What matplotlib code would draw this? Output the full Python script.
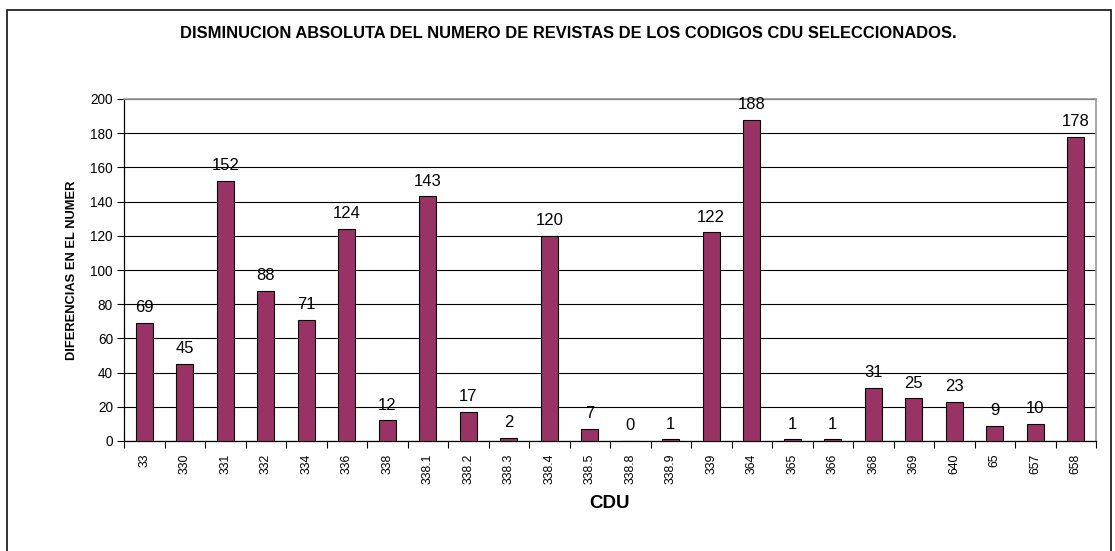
import matplotlib
matplotlib.use("Agg")
import matplotlib.pyplot as plt
from matplotlib.patches import Rectangle

categories = ["33", "330", "331", "332", "334", "336", "338", "338.1", "338.2",
              "338.3", "338.4", "338.5", "338.8", "338.9", "339", "364", "365",
              "366", "368", "369", "640", "65", "657", "658"]
values = [69, 45, 152, 88, 71, 124, 12, 143, 17, 2, 120, 7, 0, 1, 122, 188,
          1, 1, 31, 25, 23, 9, 10, 178]
yticks = [0, 20, 40, 60, 80, 100, 120, 140, 160, 180, 200]

title = "DISMINUCION ABSOLUTA DEL NUMERO DE REVISTAS DE LOS CODIGOS CDU SELECCIONADOS."
xlabel = "CDU"
ylabel = "DIFERENCIAS EN EL NUMER"

plt.rcParams['font.family'] = ['Liberation Sans', 'DejaVu Sans']

W, H = 1115, 551
fig = plt.figure(figsize=(W / 100, H / 100), dpi=100)
fig.patch.set_facecolor("white")

# outer chart border (extends past bottom of image)
fig.patches.append(Rectangle((7 / W, -0.05), (1111 - 7) / W, 1.05 - 10 / H,
                             transform=fig.transFigure, fill=False,
                             edgecolor="#222222", linewidth=1.3))

ax = fig.add_axes([124 / W, 1 - 441 / H, (1096 - 124) / W, (441 - 99) / H])
x = list(range(len(categories)))
ax.bar(x, values, width=0.42, color="#993366", edgecolor="black", linewidth=0.8, zorder=3)

ax.set_xlim(-0.5, len(categories) - 0.5)
ax.set_ylim(0, 200)
ax.set_yticks(yticks)
ax.set_yticklabels([str(t) for t in yticks], fontsize=9.8)
ax.yaxis.grid(True, color="black", linewidth=0.8, zorder=0)
ax.tick_params(axis="y", direction="out", length=5, width=0.8, pad=3)

ax.set_xticks(x)
ax.set_xticklabels(categories, rotation=90, fontsize=8.8)
ax.tick_params(axis="x", which="major", length=0, pad=9)
ax.set_xticks([i - 0.5 for i in range(len(categories) + 1)], minor=True)
ax.tick_params(axis="x", which="minor", direction="out", length=5, width=0.8)

for s in ["left", "bottom"]:
    ax.spines[s].set_color("black")
    ax.spines[s].set_linewidth(0.9)
for s in ["top", "right"]:
    ax.spines[s].set_color("#9a9a9a")
    ax.spines[s].set_linewidth(1.2)

for xi, v in zip(x, values):
    ax.annotate(str(v), (xi, v), xytext=(0, 5.5), textcoords="offset points",
                ha="center", va="bottom", fontsize=12, zorder=4)

ax.set_xlabel(xlabel, fontsize=13.5, fontweight="bold")
ax.xaxis.set_label_coords(0.5, -(503 - 441) / (441 - 99))
ax.xaxis.label.set_va("center")
ax.set_ylabel(ylabel, fontsize=9.3, fontweight="bold")
ax.yaxis.set_label_coords(-(124 - 72) / (1096 - 124), 0.5)
ax.yaxis.label.set_va("center")

fig.text(0.51, 1 - 33.5 / H, title, ha="center", va="center",
         fontsize=11.9, fontweight="bold")

fig.savefig("out.png", dpi=100)
